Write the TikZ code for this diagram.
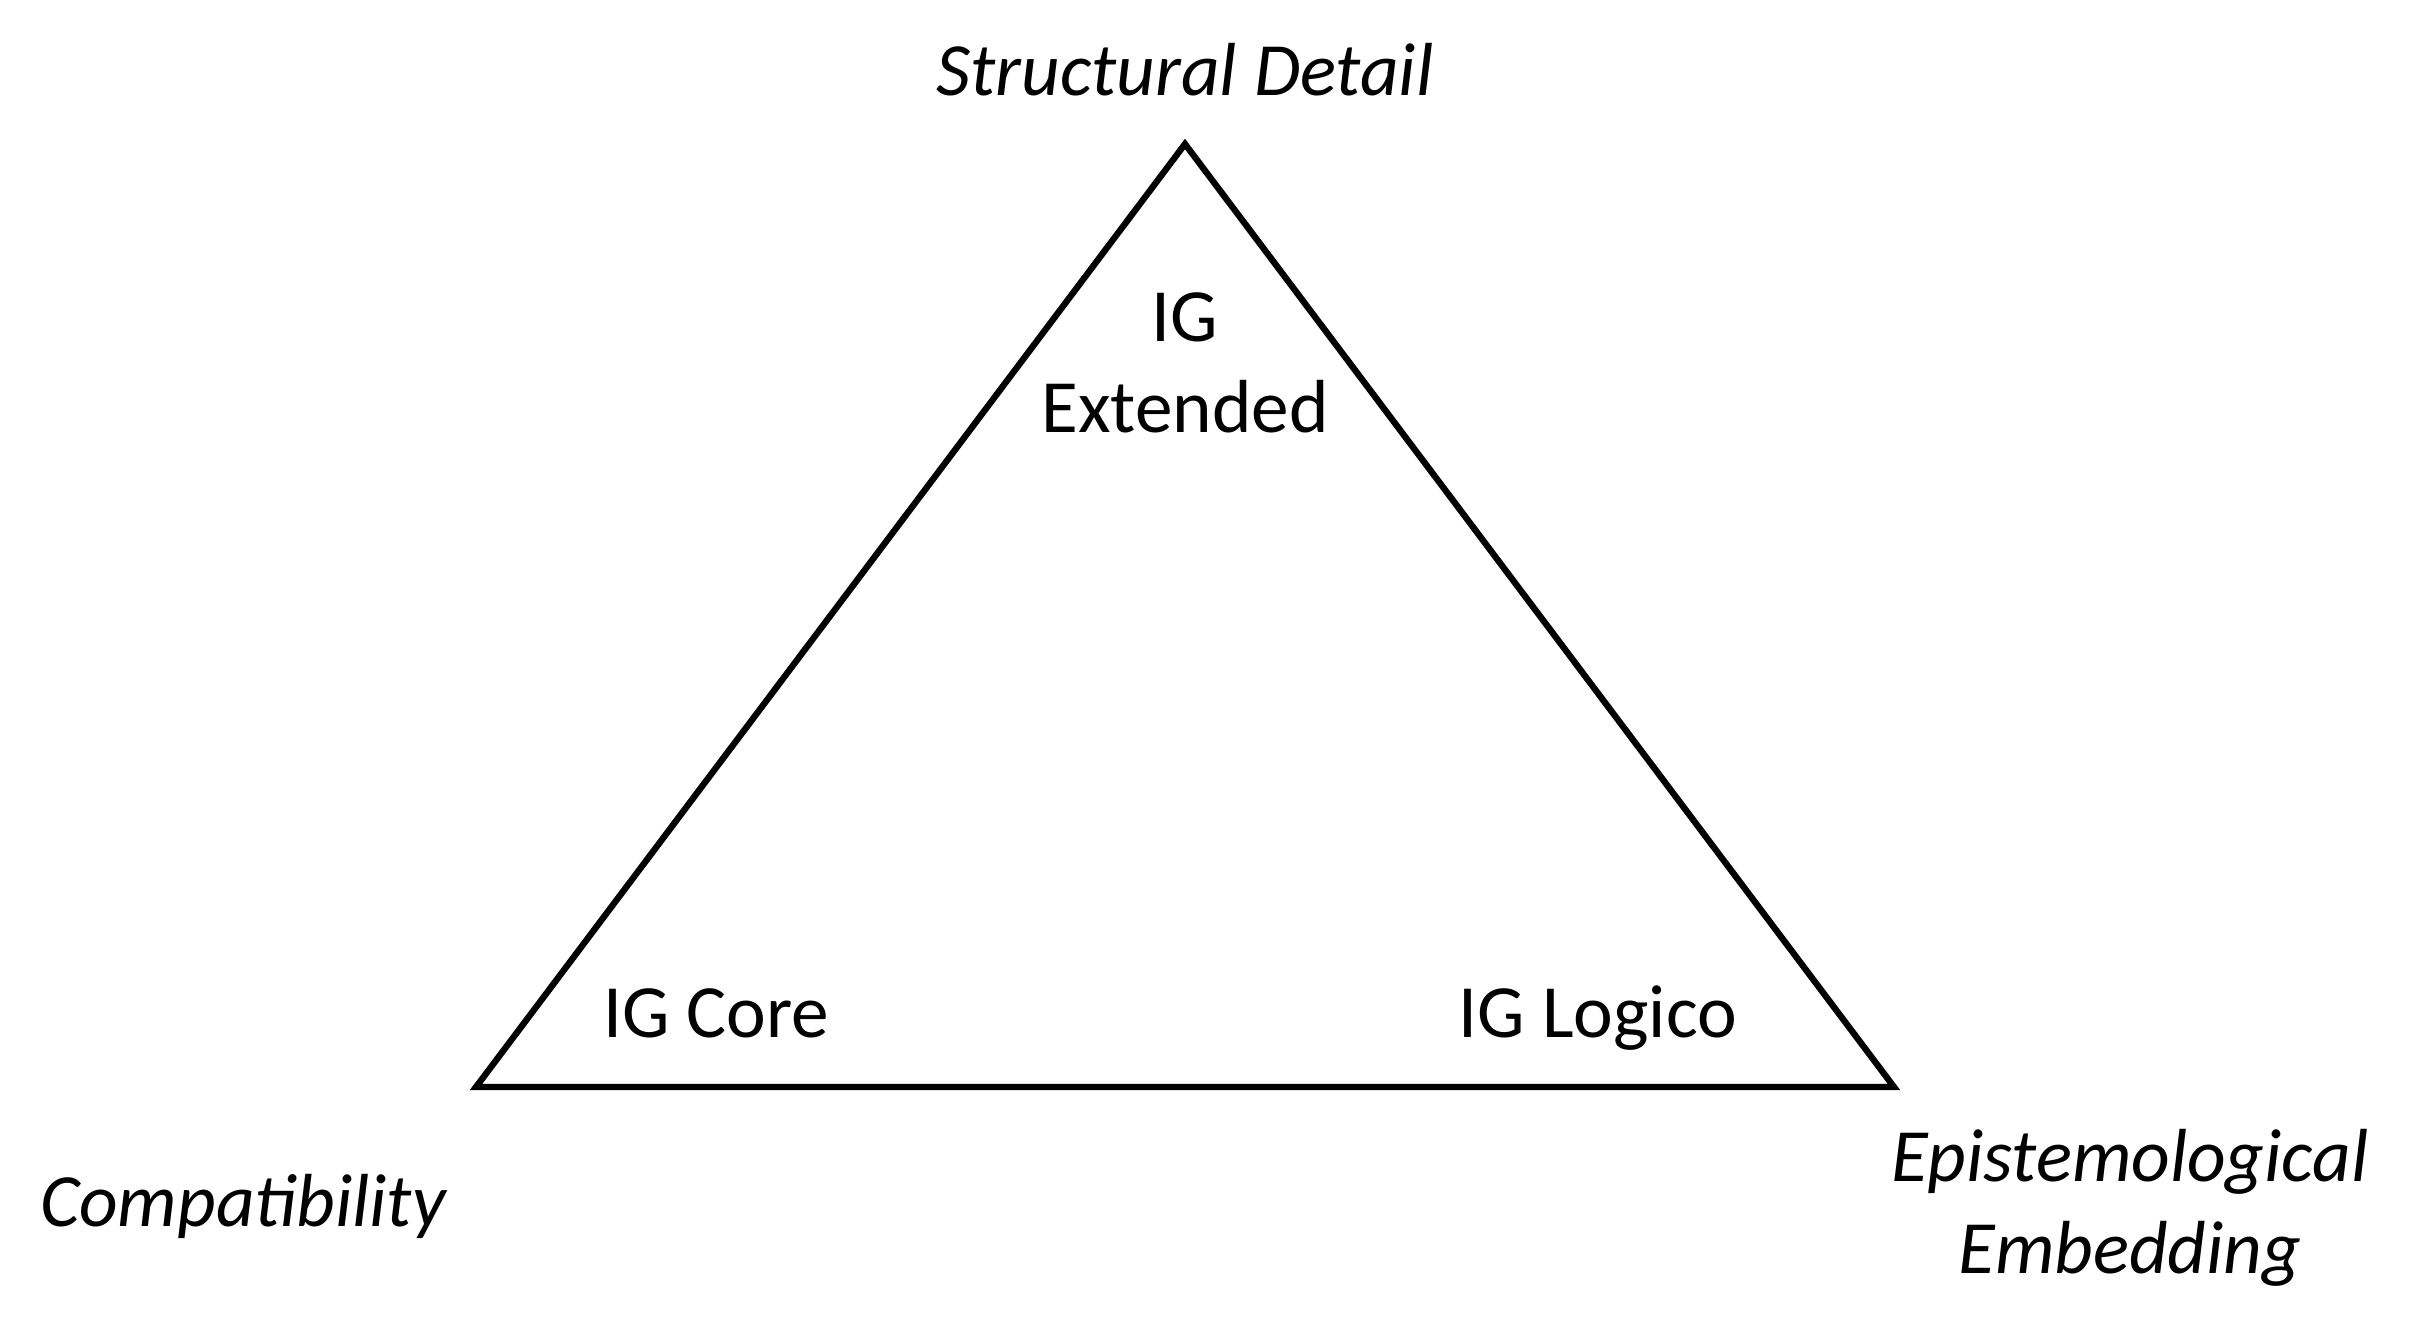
\documentclass[tikz,border=0pt]{standalone}
\usepackage{fontspec}
\setmainfont{Carlito}
\begin{document}
\begin{tikzpicture}[line width=1.8pt, corner label/.style={font=\fontsize{21.4}{26}\selectfont\itshape,align=center}, inner label/.style={font=\fontsize{21.4}{26}\selectfont,align=center}]
                \useasboundingbox (0,0) rectangle (24.25,13.33);

                \coordinate (top) at (11.85, 11.89);
                \coordinate (left) at (4.76, 2.46);
                \coordinate (right) at (18.94, 2.46);

                \node[corner label] at (11.85, 12.63) (detail) {Structural Detail};
                \node[corner label] at (2.43, 1.27) (compat) {Compatibility};
                \node[corner label] at (21.30, 1.25) (embed) {Epistemological\\Embedding};

                \node[inner label] at (11.85, 9.70) (ext) {IG\\Extended};
                \node[inner label] at (7.16, 3.20) (core) {IG Core};
                \node[inner label] at (15.98, 3.15) (logico) {IG Logico};

                \draw[line join=miter] (top) -- (right) -- (left) -- cycle;
            \end{tikzpicture}
\end{document}
